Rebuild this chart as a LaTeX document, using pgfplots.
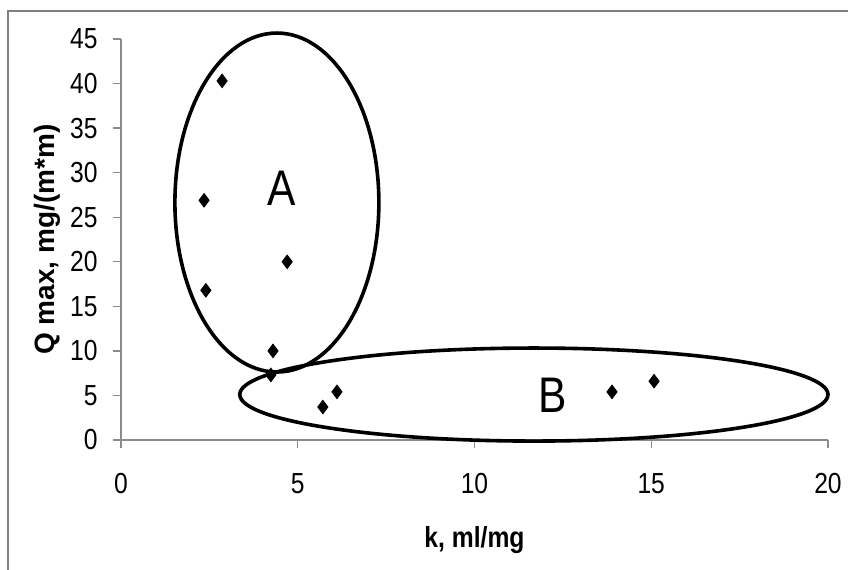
\documentclass[border=0pt]{standalone}
\usepackage{pgfplots}
\pgfplotsset{compat=1.18}
\usepackage{fontspec}
\setmainfont{Liberation Sans}[FakeStretch=0.85]
\newfontfamily\ylabfont{Liberation Sans}
\begin{document}
\begin{tikzpicture}[x=1pt,y=1pt]
\useasboundingbox (0,0) rectangle (424,284.5);
\fill[white] (0,0) rectangle (424,284.5);
\draw[black!50, line width=0.8pt] (4,-3) -- (4,279) -- (430,279);
\begin{axis}[
  at={(60.5pt,64.5pt)}, anchor=south west,
  scale only axis, width=353.5pt, height=200.5pt,
  xmin=0, xmax=20, ymin=0, ymax=45,
  xtick={0,5,...,20}, ytick={0,5,...,45},
  axis x line*=bottom, axis y line*=left,
  axis line style={-, black!45, line width=0.7pt},
  tick align=outside, major tick length=4pt,
  tick style={black!45, line width=0.7pt},
  /pgf/number format/assume math mode=true,
  xticklabel style={font=\fontsize{14.5}{16}\selectfont, anchor=center, yshift=-18pt},
  yticklabel style={font=\fontsize{14.5}{16}\selectfont, anchor=east, inner sep=0pt},
  yticklabel shift=7.5pt,
  xlabel={\textbf{k, ml/mg}},
  ylabel={\ylabfont\textbf{Q max, mg/(m*m)}},
  xlabel style={font=\fontsize{14.5}{16}\selectfont, at={([yshift=-50pt]axis description cs:0.5,0)}, anchor=center},
  ylabel style={font=\fontsize{14}{16}\selectfont, at={([xshift=-37pt]axis description cs:0,0.5)}, anchor=center},
  clip=false,
]
\addplot[only marks, mark=diamond*, mark size=3.4pt, black] coordinates {
  (2.86,40.3) (2.35,26.9) (2.40,16.8) (4.70,20.0) (4.30,10.0)
  (4.24,7.3) (5.71,3.7) (6.11,5.4) (13.89,5.4) (15.08,6.6)
};
\draw[line width=1.8pt] (axis cs:4.41,26.65) ellipse [x radius=2.885, y radius=19.02];
\draw[line width=1.8pt] (axis cs:11.68,5.1) ellipse [x radius=8.32, y radius=5.22];
\node[font=\fontsize{25}{28}\selectfont] at (axis cs:4.55,28.3) {A};
\node[font=\fontsize{25}{28}\selectfont] at (axis cs:12.22,5.05) {B};
\end{axis}
\end{tikzpicture}
\end{document}
